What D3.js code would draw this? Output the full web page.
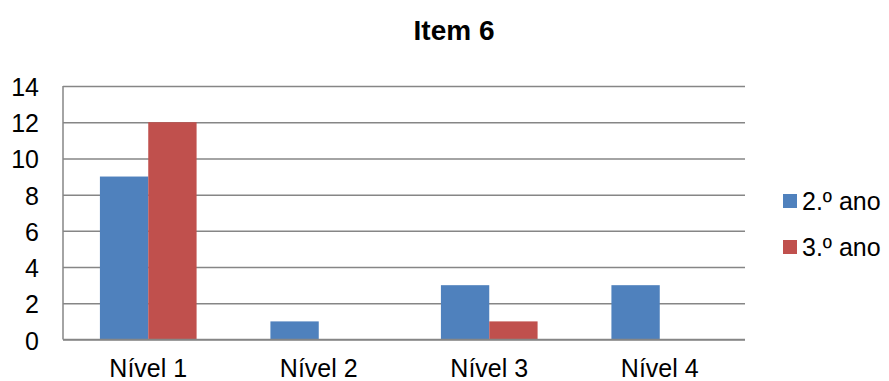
<!DOCTYPE html>
<html><head><meta charset="utf-8">
<script src="https://cdn.jsdelivr.net/npm/d3@7"></script>
<style>body{margin:0;background:#fff}svg{display:block}text{font-family:"Liberation Sans",Arial,sans-serif}</style>
</head><body>
<svg id="c" width="889" height="381"></svg>
<script>
const categories = ["Nível 1", "Nível 2", "Nível 3", "Nível 4"];
const seriesNames = ["2.º ano", "3.º ano"];
const ano2 = [9, 1, 3, 3];
const ano3 = [12, 0, 1, 0];
const yTicks = [0, 2, 4, 6, 8, 10, 12, 14];
const colors = ["#4F81BD", "#C0504D"];
const title = "Item 6";

const FS = 25;
const svg = d3.select("#c");
const L = 63, R = 745, T = 86, B = 339.5;
const x = d3.scaleBand().domain(categories).range([L, R]).paddingInner(0).paddingOuter(0);
const y = d3.scaleLinear().domain([0, 14]).range([B, T]);
const groupW = x.bandwidth() * 0.567;
const xs = d3.scaleBand().domain(seriesNames).range([0, groupW]);

svg.append("text").attr("x", 454).attr("y", 39.5).attr("text-anchor", "middle")
  .attr("font-size", 28).attr("font-weight", "bold").text(title);

// gridlines
const yAxis = d3.axisLeft(y).tickValues(yTicks).tickSize(-(R - L)).tickPadding(0);
const gy = svg.append("g").attr("transform", `translate(${L},0)`).call(yAxis);
gy.select(".domain").remove();
gy.selectAll(".tick line").attr("stroke", "#868686").attr("stroke-width", 1.5);
gy.selectAll(".tick text").attr("font-size", FS).attr("fill", "#000")
  .attr("x", -24).attr("dy", null).attr("y", 9.5);

// y axis line
svg.append("line").attr("x1", L).attr("x2", L).attr("y1", T).attr("y2", B)
  .attr("stroke", "#868686").attr("stroke-width", 1.5);

const data = [ano2, ano3];
data.forEach((vals, si) => {
  svg.append("g").selectAll("rect").data(vals).join("rect")
    .attr("x", (d, i) => x(categories[i]) + (x.bandwidth() - groupW) / 2 + xs(seriesNames[si]))
    .attr("width", xs.bandwidth())
    .attr("y", d => y(d))
    .attr("height", d => B - y(d))
    .attr("fill", colors[si]);
});

// baseline redrawn over bars
svg.append("line").attr("x1", L).attr("x2", R).attr("y1", B).attr("y2", B)
  .attr("stroke", "#868686").attr("stroke-width", 1.5);

const xAxis = d3.axisBottom(x).tickSize(0).tickPadding(0);
const gx = svg.append("g").attr("transform", `translate(0,${B})`).call(xAxis);
gx.select(".domain").remove();
gx.selectAll(".tick text").attr("font-size", FS).attr("fill", "#000")
  .attr("y", 37.5).attr("dy", null);

// legend
const lg = svg.append("g");
seriesNames.forEach((n, i) => {
  const yy = 194 + i * 46;
  lg.append("rect").attr("x", 783).attr("y", yy).attr("width", 14).attr("height", 14).attr("fill", colors[i]);
  lg.append("text").attr("font-size", FS).attr("x", 802).attr("y", yy + 16).text(n);
});
</script>
</body></html>
